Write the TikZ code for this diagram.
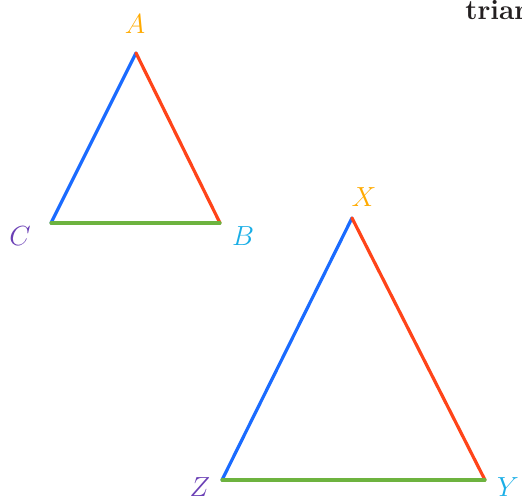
\documentclass[tikz,border=0pt]{standalone}
\definecolor{edgered}{HTML}{FF4419}
\definecolor{edgeblue}{HTML}{1A6BFF}
\definecolor{edgegreen}{HTML}{6DB33F}
\definecolor{tiporange}{HTML}{FFAA00}
\definecolor{tippurple}{HTML}{6A3FB5}
\definecolor{tipcyan}{HTML}{1AAEE6}
\definecolor{ink}{HTML}{231F20}

\begin{document}
\begin{tikzpicture}[x=0.75pt,y=-0.75pt,vlabel/.style={inner sep=0pt,font=\fontsize{22}{22}\selectfont},side/.style={line width=2.4pt,line cap=round}]
 \useasboundingbox (0,0) rectangle (522,501);
 \coordinate (a) at (136,53); \coordinate (b) at (220,223); \coordinate (c) at (51,223);
 \coordinate (x) at (352,218); \coordinate (y) at (485,480); \coordinate (z) at (222,480);
 \draw[side,edgeblue] (c)--(a); \draw[side,edgered] (a)--(b); \draw[side,edgegreen] (c)--(b);
 \draw[side,edgeblue] (z)--(x); \draw[side,edgered] (x)--(y); \draw[side,edgegreen] (z)--(y);
 \node[vlabel,text=tiporange] (la) at (135,24) {$A$};
 \node[vlabel,text=tipcyan] (lb) at (243,236) {$B$};
 \node[vlabel,text=tippurple] (lc) at (20,236) {$C$};
 \node[vlabel,text=tiporange] (lx) at (364,197) {$X$};
 \node[vlabel,text=tipcyan] (ly) at (508,487) {$Y$};
 \node[vlabel,text=tippurple] (lz) at (200,487) {$Z$};
 \node[anchor=base west,inner sep=0pt,text=ink,font=\fontsize{21}{21}\selectfont\bfseries] (word) at (465,19) {triar};
\end{tikzpicture}
\end{document}
